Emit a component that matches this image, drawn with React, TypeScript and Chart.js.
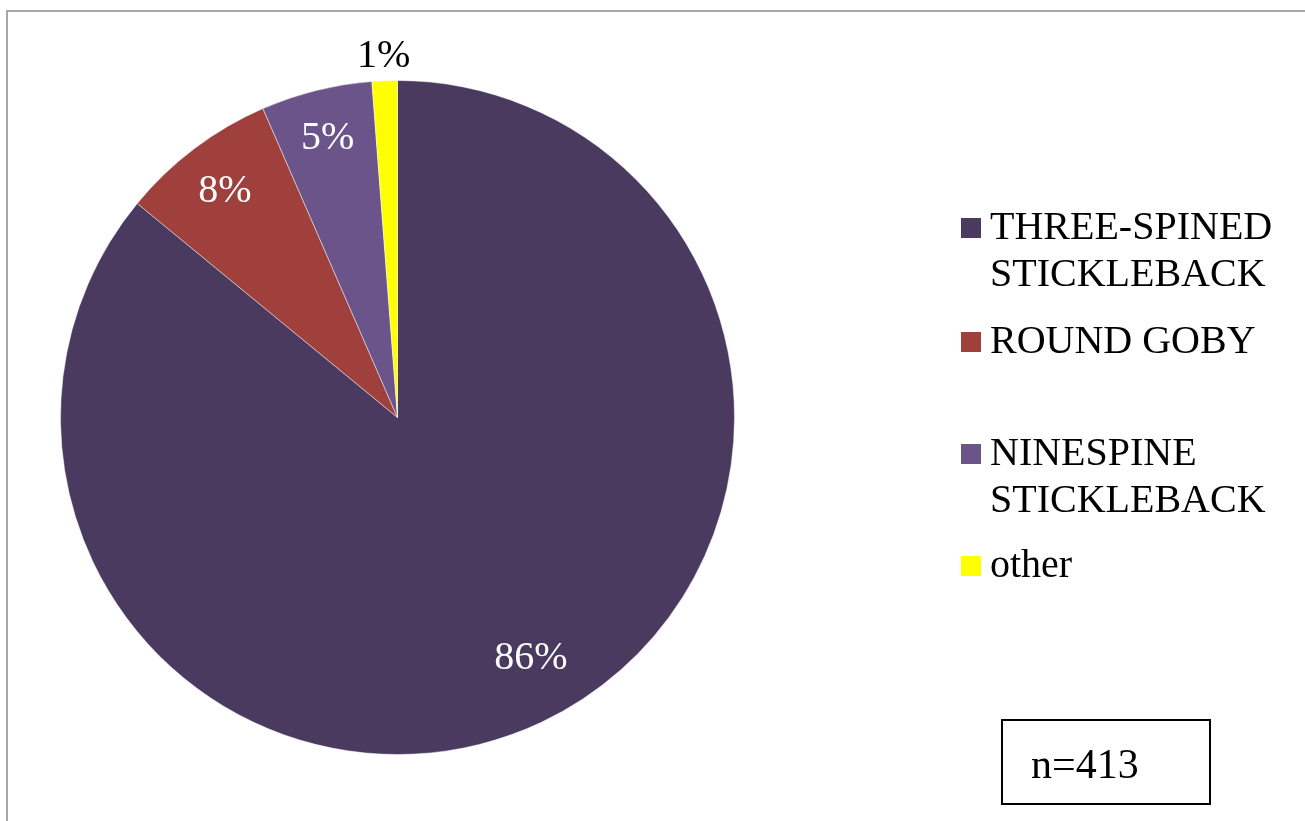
import React, { useEffect, useRef } from "react";
import { Chart, registerables } from "chart.js";

Chart.register(...registerables);

const categories = ["THREE-SPINED STICKLEBACK", "ROUND GOBY", "NINESPINE STICKLEBACK", "other"];
const legendLines = [["THREE-SPINED", "STICKLEBACK"], ["ROUND GOBY"], ["NINESPINE", "STICKLEBACK"], ["other"]];
const counts = [355, 31, 22, 5];
const colors = ["#4b3a5f", "#a0403d", "#6a5489", "#ffff00"];
const labelColors = ["#ffffff", "#ffffff", "#ffffff", "#000000"];
const labelRadiusFactor = [0.81, 0.85, 0.86, 1.08];
const labelAngleShift = [-4, 0, 0, 0];
const sampleLabel = "n=413";

const FONT = "'Liberation Serif', 'Times New Roman', serif";

const decorPlugin = {
  id: "decor",
  beforeDraw(chart: any) {
    const ctx = chart.ctx;
    ctx.save();
    ctx.fillStyle = "#ffffff";
    ctx.fillRect(0, 0, chart.width, chart.height);
    ctx.strokeStyle = "#a8a8a8";
    ctx.lineWidth = 2;
    ctx.beginPath();
    ctx.moveTo(7, chart.height + 5);
    ctx.lineTo(7, 11);
    ctx.lineTo(chart.width, 11);
    ctx.stroke();
    ctx.restore();
  },
  afterDraw(chart: any) {
    const ctx = chart.ctx;
    const meta = chart.getDatasetMeta(0);
    const data = chart.data.datasets[0].data as number[];
    const total = data.reduce((a, b) => a + b, 0);
    ctx.save();
    // data labels
    const labelSize = 40;
    ctx.font = `${labelSize}px ${FONT}`;
    ctx.textAlign = "center";
    ctx.textBaseline = "alphabetic";
    meta.data.forEach((arc: any, i: number) => {
      const p = arc.getProps(["x", "y", "startAngle", "endAngle", "outerRadius"], true);
      const mid = (p.startAngle + p.endAngle) / 2 + (labelAngleShift[i] * Math.PI) / 180;
      const r = p.outerRadius * labelRadiusFactor[i];
      const x = p.x + Math.cos(mid) * r;
      const y = p.y + Math.sin(mid) * r;
      ctx.fillStyle = labelColors[i];
      ctx.fillText(Math.round((data[i] / total) * 100) + "%", x, y + labelSize * 0.33);
    });
    // legend
    ctx.font = `40px ${FONT}`;
    ctx.textAlign = "left";
    ctx.textBaseline = "alphabetic";
    const firstBaselines = [239, 353, 465, 577];
    legendLines.forEach((lines, i) => {
      const b = firstBaselines[i];
      ctx.fillStyle = colors[i];
      ctx.fillRect(961, b - 21, 20, 20);
      ctx.fillStyle = "#000000";
      lines.forEach((ln, j) => ctx.fillText(ln, 990, b + j * 47));
    });
    // n box
    ctx.strokeStyle = "#000000";
    ctx.lineWidth = 2;
    ctx.strokeRect(1002, 720, 208, 84);
    ctx.font = `42px ${FONT}`;
    ctx.fillStyle = "#000000";
    ctx.fillText(sampleLabel, 1031, 778);
    ctx.restore();
  },
};

export default function App() {
  const ref = useRef<HTMLCanvasElement | null>(null);
  useEffect(() => {
    if (!ref.current) return;
    const chart = new Chart(ref.current, {
      type: "pie",
      data: {
        labels: categories,
        datasets: [
          {
            data: counts,
            backgroundColor: colors,
            borderColor: "rgba(255,255,255,0.45)",
            borderWidth: 1,
          },
        ],
      },
      options: {
        animation: false,
        responsive: false,
        layout: { padding: { left: 60, top: 80, right: 570, bottom: 66 } },
        plugins: {
          legend: { display: false },
          tooltip: { enabled: false },
        },
      },
      plugins: [decorPlugin],
    });
    return () => chart.destroy();
  }, []);
  return (
    <div style={{ position: "absolute", left: 0, top: 0, width: 1305, height: 821, background: "#fff" }}>
      <canvas ref={ref} width={1305} height={821} style={{ display: "block" }} />
    </div>
  );
}
